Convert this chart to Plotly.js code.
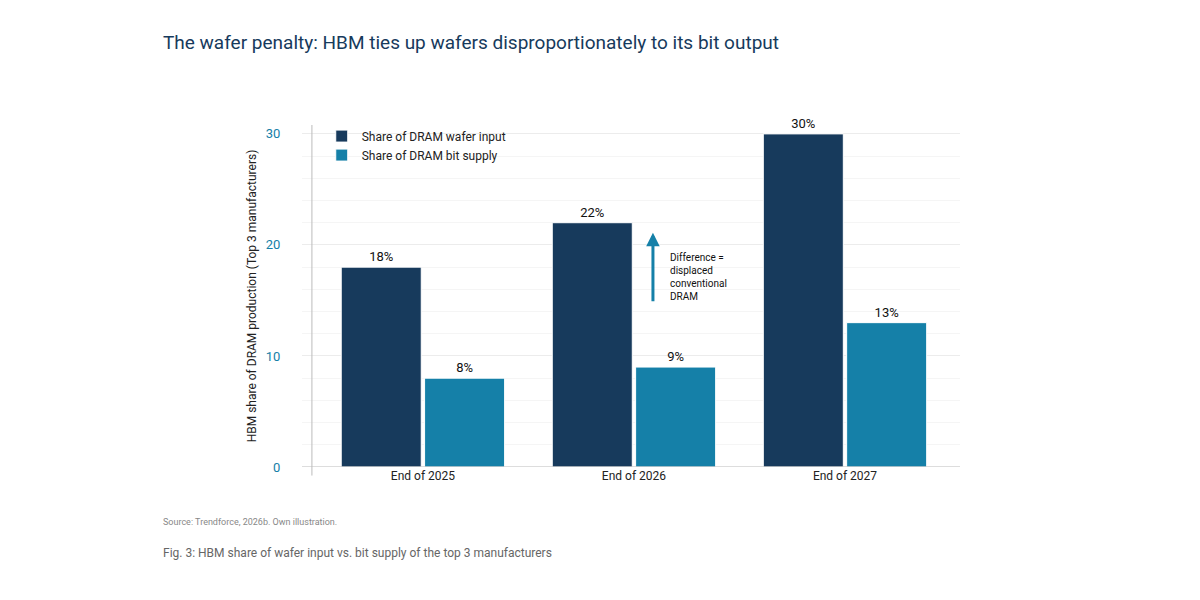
<!DOCTYPE html>
<html>
<head>
<meta charset="utf-8">
<script src="https://cdn.plot.ly/plotly-3.0.1.min.js"></script>
</head>
<body style="margin:0">
<div id="chart" style="width:1200px;height:600px"></div>
<script>
var categories = ['End of 2025', 'End of 2026', 'End of 2027'];
var waferInput = [18, 22, 30];
var bitSupply = [8, 9, 13];
var yTicks = [0, 10, 20, 30];

var xIdx = [0, 1, 2];
function pct(v) { return v.map(function (d) { return d + '%'; }); }

var data = [
    {
      x: xIdx, y: waferInput, name: 'Share of DRAM wafer input', type: 'bar',
      marker: {color: '#173a5c', line: {color: '#ffffff', width: 1}},
      text: pct(waferInput), textposition: 'outside', cliponaxis: false,
      textfont: {family: 'Liberation Sans Narrow, Roboto', size: 13, color: '#111'},
      hoverinfo: 'none'
    },
    {
      x: xIdx, y: bitSupply, name: 'Share of DRAM bit supply', type: 'bar',
      marker: {color: '#1580a8', line: {color: '#ffffff', width: 1}},
      text: pct(bitSupply), textposition: 'outside', cliponaxis: false,
      textfont: {family: 'Liberation Sans Narrow, Roboto', size: 13, color: '#111'},
      hoverinfo: 'none'
    }
];

var layout = {
    width: 1200, height: 600,
    margin: {l: 302, r: 240, t: 125, b: 133},
    paper_bgcolor: '#fff', plot_bgcolor: '#fff',
    font: {family: 'Roboto, sans-serif', color: '#222'},
    barmode: 'group', bargap: 0.21, bargroupgap: 0.04,
    showlegend: true,
    legend: {x: 0.03, y: 1.01, xanchor: 'left', yanchor: 'top', bgcolor: 'rgba(0,0,0,0)',
             font: {size: 12, color: '#222'}, tracegroupgap: 4},
    xaxis: {
      range: [-0.573, 2.545], tickvals: xIdx, ticktext: categories,
      showgrid: false, zeroline: false, showline: false, ticks: '',
      tickfont: {size: 12, color: '#222'}
    },
    yaxis: {
      range: [0, 30.8], tickvals: yTicks, showgrid: true, gridcolor: '#ececec',
      minor: {dtick: 2, showgrid: true, gridcolor: '#f5f5f5'},
      zeroline: false, showline: false, ticks: 'outside', ticklen: 18, tickcolor: 'rgba(0,0,0,0)',
      tickfont: {family: 'Liberation Sans Narrow, Roboto', size: 13, color: '#1580a8'},
      title: {text: 'HBM share of DRAM production (Top 3 manufacturers)', font: {size: 12, color: '#222'}, standoff: 6}
    },
    shapes: [
      {type: 'line', xref: 'paper', yref: 'y', x0: 0, x1: 1, y0: 0, y1: 0, line: {color: '#bbb', width: 1.2}},
      {type: 'line', xref: 'x', yref: 'paper', x0: -0.526, x1: -0.526, y0: -0.025, y1: 1, line: {color: '#bbb', width: 1}}
    ],
    annotations: [
      {xref: 'x', yref: 'y', x: 1.09, y: 21.1, ax: 1.09, ay: 14.8, axref: 'x', ayref: 'y',
       showarrow: true, arrowhead: 2, arrowsize: 0.9, arrowwidth: 3, arrowcolor: '#1580a8', text: ''},
      {xref: 'x', yref: 'y', x: 1.16, y: 19.5, xanchor: 'left', yanchor: 'top', align: 'left', showarrow: false,
       text: 'Difference =<br>displaced<br>conventional<br>DRAM', font: {size: 10, color: '#111'}},
      {xref: 'paper', yref: 'paper', x: -0.215, y: 1.24, xanchor: 'left', yanchor: 'middle', showarrow: false,
       text: 'The wafer penalty: HBM ties up wafers disproportionately to its bit output',
       font: {family: 'Liberation Sans Narrow, Roboto', size: 19, color: '#173a5c'}},
      {xref: 'paper', yref: 'paper', x: -0.215, y: -0.16, xanchor: 'left', yanchor: 'middle', showarrow: false,
       text: 'Source: Trendforce, 2026b. Own illustration.', font: {size: 9, color: '#888'}},
      {xref: 'paper', yref: 'paper', x: -0.215, y: -0.25, xanchor: 'left', yanchor: 'middle', showarrow: false,
       text: 'Fig. 3: HBM share of wafer input vs. bit supply of the top 3 manufacturers', font: {size: 12, color: '#666'}}
    ]
};

Plotly.newPlot('chart', data, layout, {staticPlot: true});
</script>
</body>
</html>
